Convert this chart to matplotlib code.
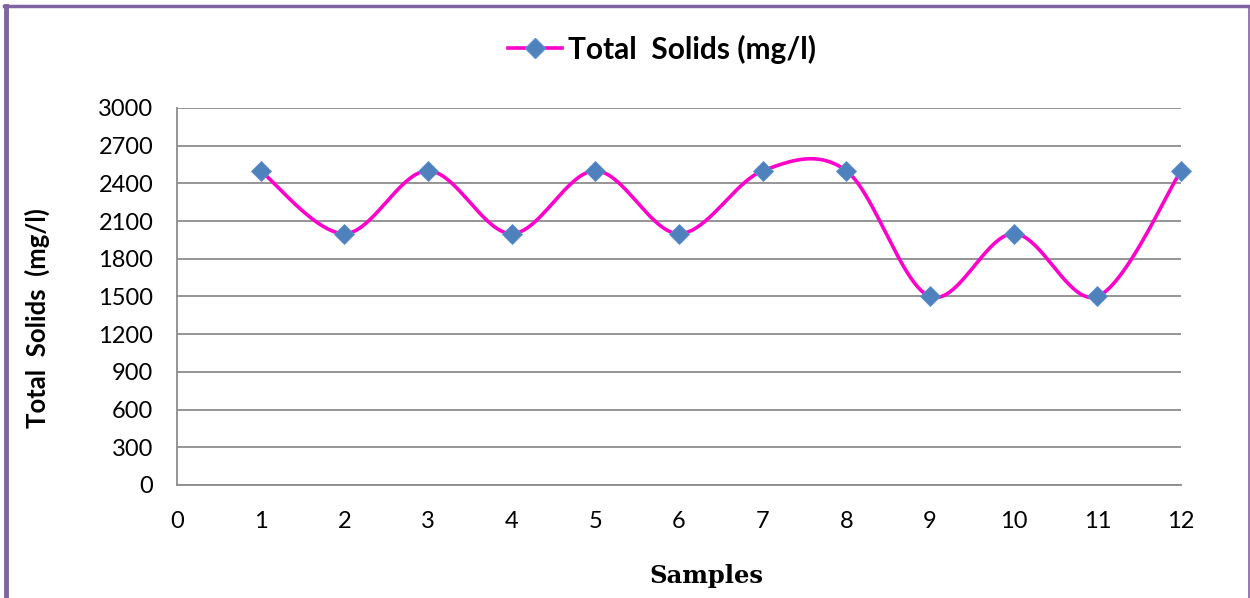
import numpy as np
import matplotlib.pyplot as plt
from matplotlib.lines import Line2D

# sample numbers and total solids readings
samples = [1, 2, 3, 4, 5, 6, 7, 8, 9, 10, 11, 12]
total_solids = [2500, 2000, 2500, 2000, 2500, 2000, 2500, 2500, 1500, 2000, 1500, 2500]
y_ticks = list(range(0, 3001, 300))
x_ticks = list(range(0, 13))

LINE_COLOR = '#FF00CC'
MARKER_COLOR = '#4F81BD'
BORDER_COLOR = '#8064A2'


def smooth_curve(x, y, steps=40):
    # Catmull-Rom spline through the points, like a spreadsheet "smoothed line"
    x = np.asarray(x, float)
    y = np.asarray(y, float)
    px = np.concatenate([[x[0]], x, [x[-1]]])
    py = np.concatenate([[y[0]], y, [y[-1]]])
    xs, ys = [], []
    t = np.linspace(0, 1, steps)
    for i in range(1, len(px) - 2):
        for p, out in ((px, xs), (py, ys)):
            p0, p1, p2, p3 = p[i - 1], p[i], p[i + 1], p[i + 2]
            m1 = (p2 - p0) / 2.0
            m2 = (p3 - p1) / 2.0
            h00 = 2 * t**3 - 3 * t**2 + 1
            h10 = t**3 - 2 * t**2 + t
            h01 = -2 * t**3 + 3 * t**2
            h11 = t**3 - t**2
            out.extend(h00 * p1 + h10 * m1 + h01 * p2 + h11 * m2)
    return np.array(xs), np.array(ys)


plt.rcParams['font.family'] = ['Lato', 'DejaVu Sans']

fig = plt.figure(figsize=(12.5, 5.98), dpi=100)
ax = fig.add_axes([0.1416, 0.189, 0.8032, 0.6304])

sx, sy = smooth_curve(samples, total_solids)
ax.plot(sx, sy, color=LINE_COLOR, lw=2.6, solid_capstyle='round', zorder=3,
        clip_on=False)
ax.plot(samples, total_solids, linestyle='none', marker='D', ms=10,
        color=MARKER_COLOR, markeredgecolor='#5B8FCF', markeredgewidth=0.6,
        zorder=4, clip_on=False)

ax.set_xlim(0, 12)
ax.set_ylim(0, 3000)
ax.set_xticks(x_ticks)
ax.set_yticks(y_ticks)
ax.tick_params(axis='both', length=0, labelsize=17, colors='black')
ax.tick_params(axis='x', pad=19)
ax.tick_params(axis='y', pad=17)
ax.grid(axis='y', color='#8C8C8C', lw=1.3)
ax.set_axisbelow(True)
for side in ('top', 'right'):
    ax.spines[side].set_visible(False)
for side in ('left', 'bottom'):
    ax.spines[side].set_color('#8C8C8C')
    ax.spines[side].set_linewidth(1.3)

fig.text(37 / 1250, 1 - 318 / 598, 'Total  Solids  (mg/l)', rotation=90,
         ha='center', va='center', fontsize=18.5, fontweight='bold')
fig.text(706 / 1250, 1 - 576 / 598, 'Samples', ha='center', va='center',
         fontsize=17.5, fontweight='bold', family=['DejaVu Serif'])

handle = Line2D([], [], color=LINE_COLOR, lw=2.6, marker='D', ms=10,
                markerfacecolor=MARKER_COLOR, markeredgecolor='#5B8FCF')
fig.legend([handle], ['Total  Solids (mg/l)'], loc='center',
           bbox_to_anchor=(662 / 1250, 1 - 49 / 598), frameon=False,
           prop={'size': 21.5, 'weight': 'bold'}, handlelength=1.8,
           handletextpad=0.2)

# frame around the figure
fig.add_artist(Line2D([6 / 1250, 6 / 1250], [0, 1 - 6 / 598], color=BORDER_COLOR,
                      lw=3.5, transform=fig.transFigure))
fig.add_artist(Line2D([4 / 1250, 1249 / 1250], [1 - 6 / 598, 1 - 6 / 598],
                      color=BORDER_COLOR, lw=2.5, transform=fig.transFigure))
fig.add_artist(Line2D([1248.5 / 1250, 1248.5 / 1250], [0, 1 - 6 / 598],
                      color=BORDER_COLOR, lw=1.2, transform=fig.transFigure))

fig.savefig('out.png', dpi=100)
